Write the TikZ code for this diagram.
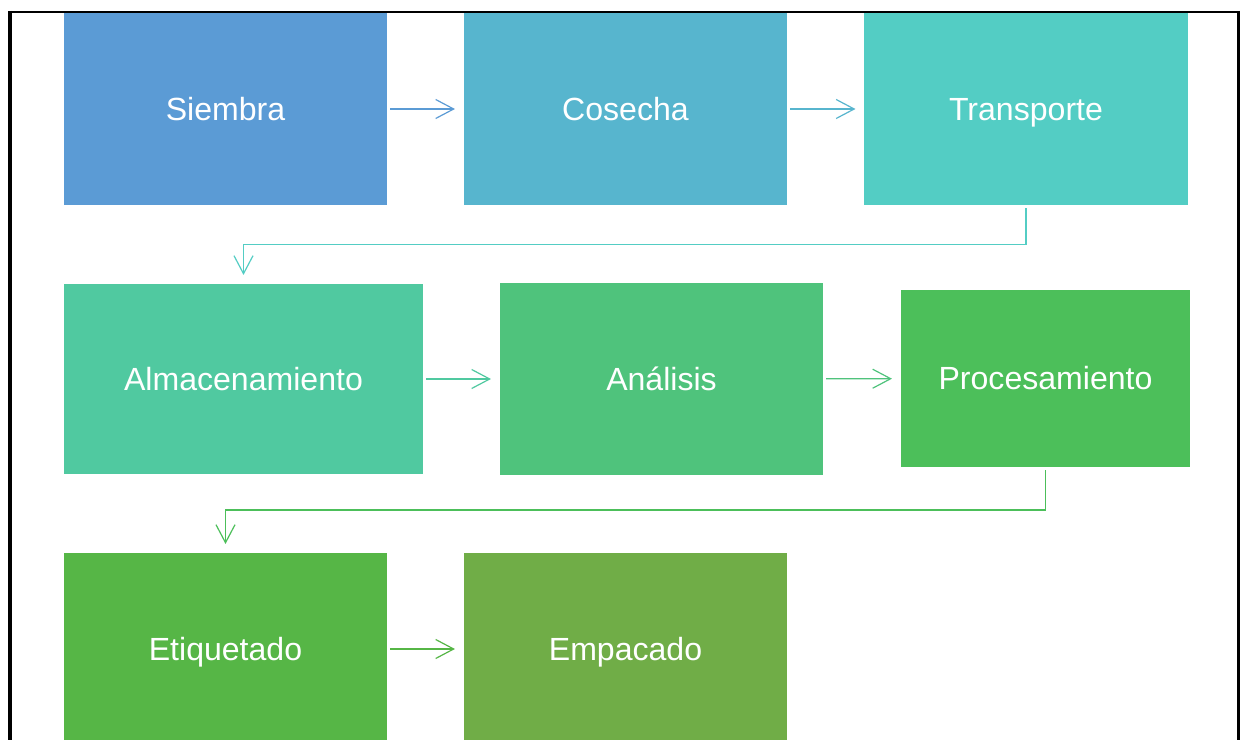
\documentclass[tikz,border=0pt]{standalone}
\usepackage{fontspec}
\setmainfont{Liberation Sans}
\usetikzlibrary{arrows.meta}
\definecolor{siembraCol}{HTML}{5B9BD5}
\definecolor{cosechaCol}{HTML}{57B5CE}
\definecolor{transporteCol}{HTML}{53CDC4}
\definecolor{almacenCol}{HTML}{50C9A0}
\definecolor{analisisCol}{HTML}{4FC37C}
\definecolor{procesoCol}{HTML}{4CBF5A}
\definecolor{etiquetaCol}{HTML}{56B646}
\definecolor{empaqueCol}{HTML}{70AD47}
\begin{document}
\begin{tikzpicture}[x=0.025cm, y=-0.025cm,
  caja/.style={inner sep=0pt, outer sep=0pt, minimum width=8.075cm, minimum height=4.8cm,
    text height=16pt, text depth=0pt,
    text=white, font=\fontsize{22.8}{27}\selectfont},
  flecha/.style={line width=0.85pt, -{Straight Barb[length=0.45cm, width=0.475cm, line width=0.85pt]},
    shorten <=0.075cm, shorten >=0.225cm}]
\useasboundingbox (0,0) rectangle (1244,740);
\clip (0,0) rectangle (1244,740);
\fill[white] (0,0) rectangle (1244,740);
% frame
\draw[line width=0.05cm] (9,12) -- (1238.5,12);
\draw[line width=0.065cm] (1238.5,11) -- (1238.5,760);
\draw[line width=0.1cm] (10,11) -- (10,760);
% first row
\node[caja, fill=siembraCol] (siembra) at (225.5,109) {Siembra};
\node[caja, fill=cosechaCol] (cosecha) at (625.5,109) {Cosecha};
\node[caja, fill=transporteCol] (transporte) at (1026,109) {Transporte};
% second row
\node[caja, fill=almacenCol, minimum width=8.975cm, minimum height=4.75cm] (almacen) at (243.5,379) {Almacenamiento};
\node[caja, fill=analisisCol] (analisis) at (661.5,379) {Análisis};
\node[caja, fill=procesoCol, minimum width=7.225cm, minimum height=4.425cm] (proceso) at (1045.5,378.5) {Procesamiento};
% third row
\node[caja, fill=etiquetaCol] (etiqueta) at (225.5,649) {Etiquetado};
\node[caja, fill=empaqueCol] (empaque) at (625.5,649) {Empacado};
% connectors
\draw[flecha, siembraCol] (siembra) -- (cosecha);
\draw[flecha, cosechaCol] (cosecha) -- (transporte);
\draw[flecha, transporteCol] (transporte.south) -- ++(0,39.5) -| (almacen.north);
\draw[flecha, almacenCol] (almacen) -- (analisis);
\draw[flecha, analisisCol] (analisis) -- (proceso);
\draw[flecha, procesoCol] (proceso.south) -- ++(0,43) -| (etiqueta.north);
\draw[flecha, etiquetaCol] (etiqueta) -- (empaque);
\end{tikzpicture}
\end{document}
